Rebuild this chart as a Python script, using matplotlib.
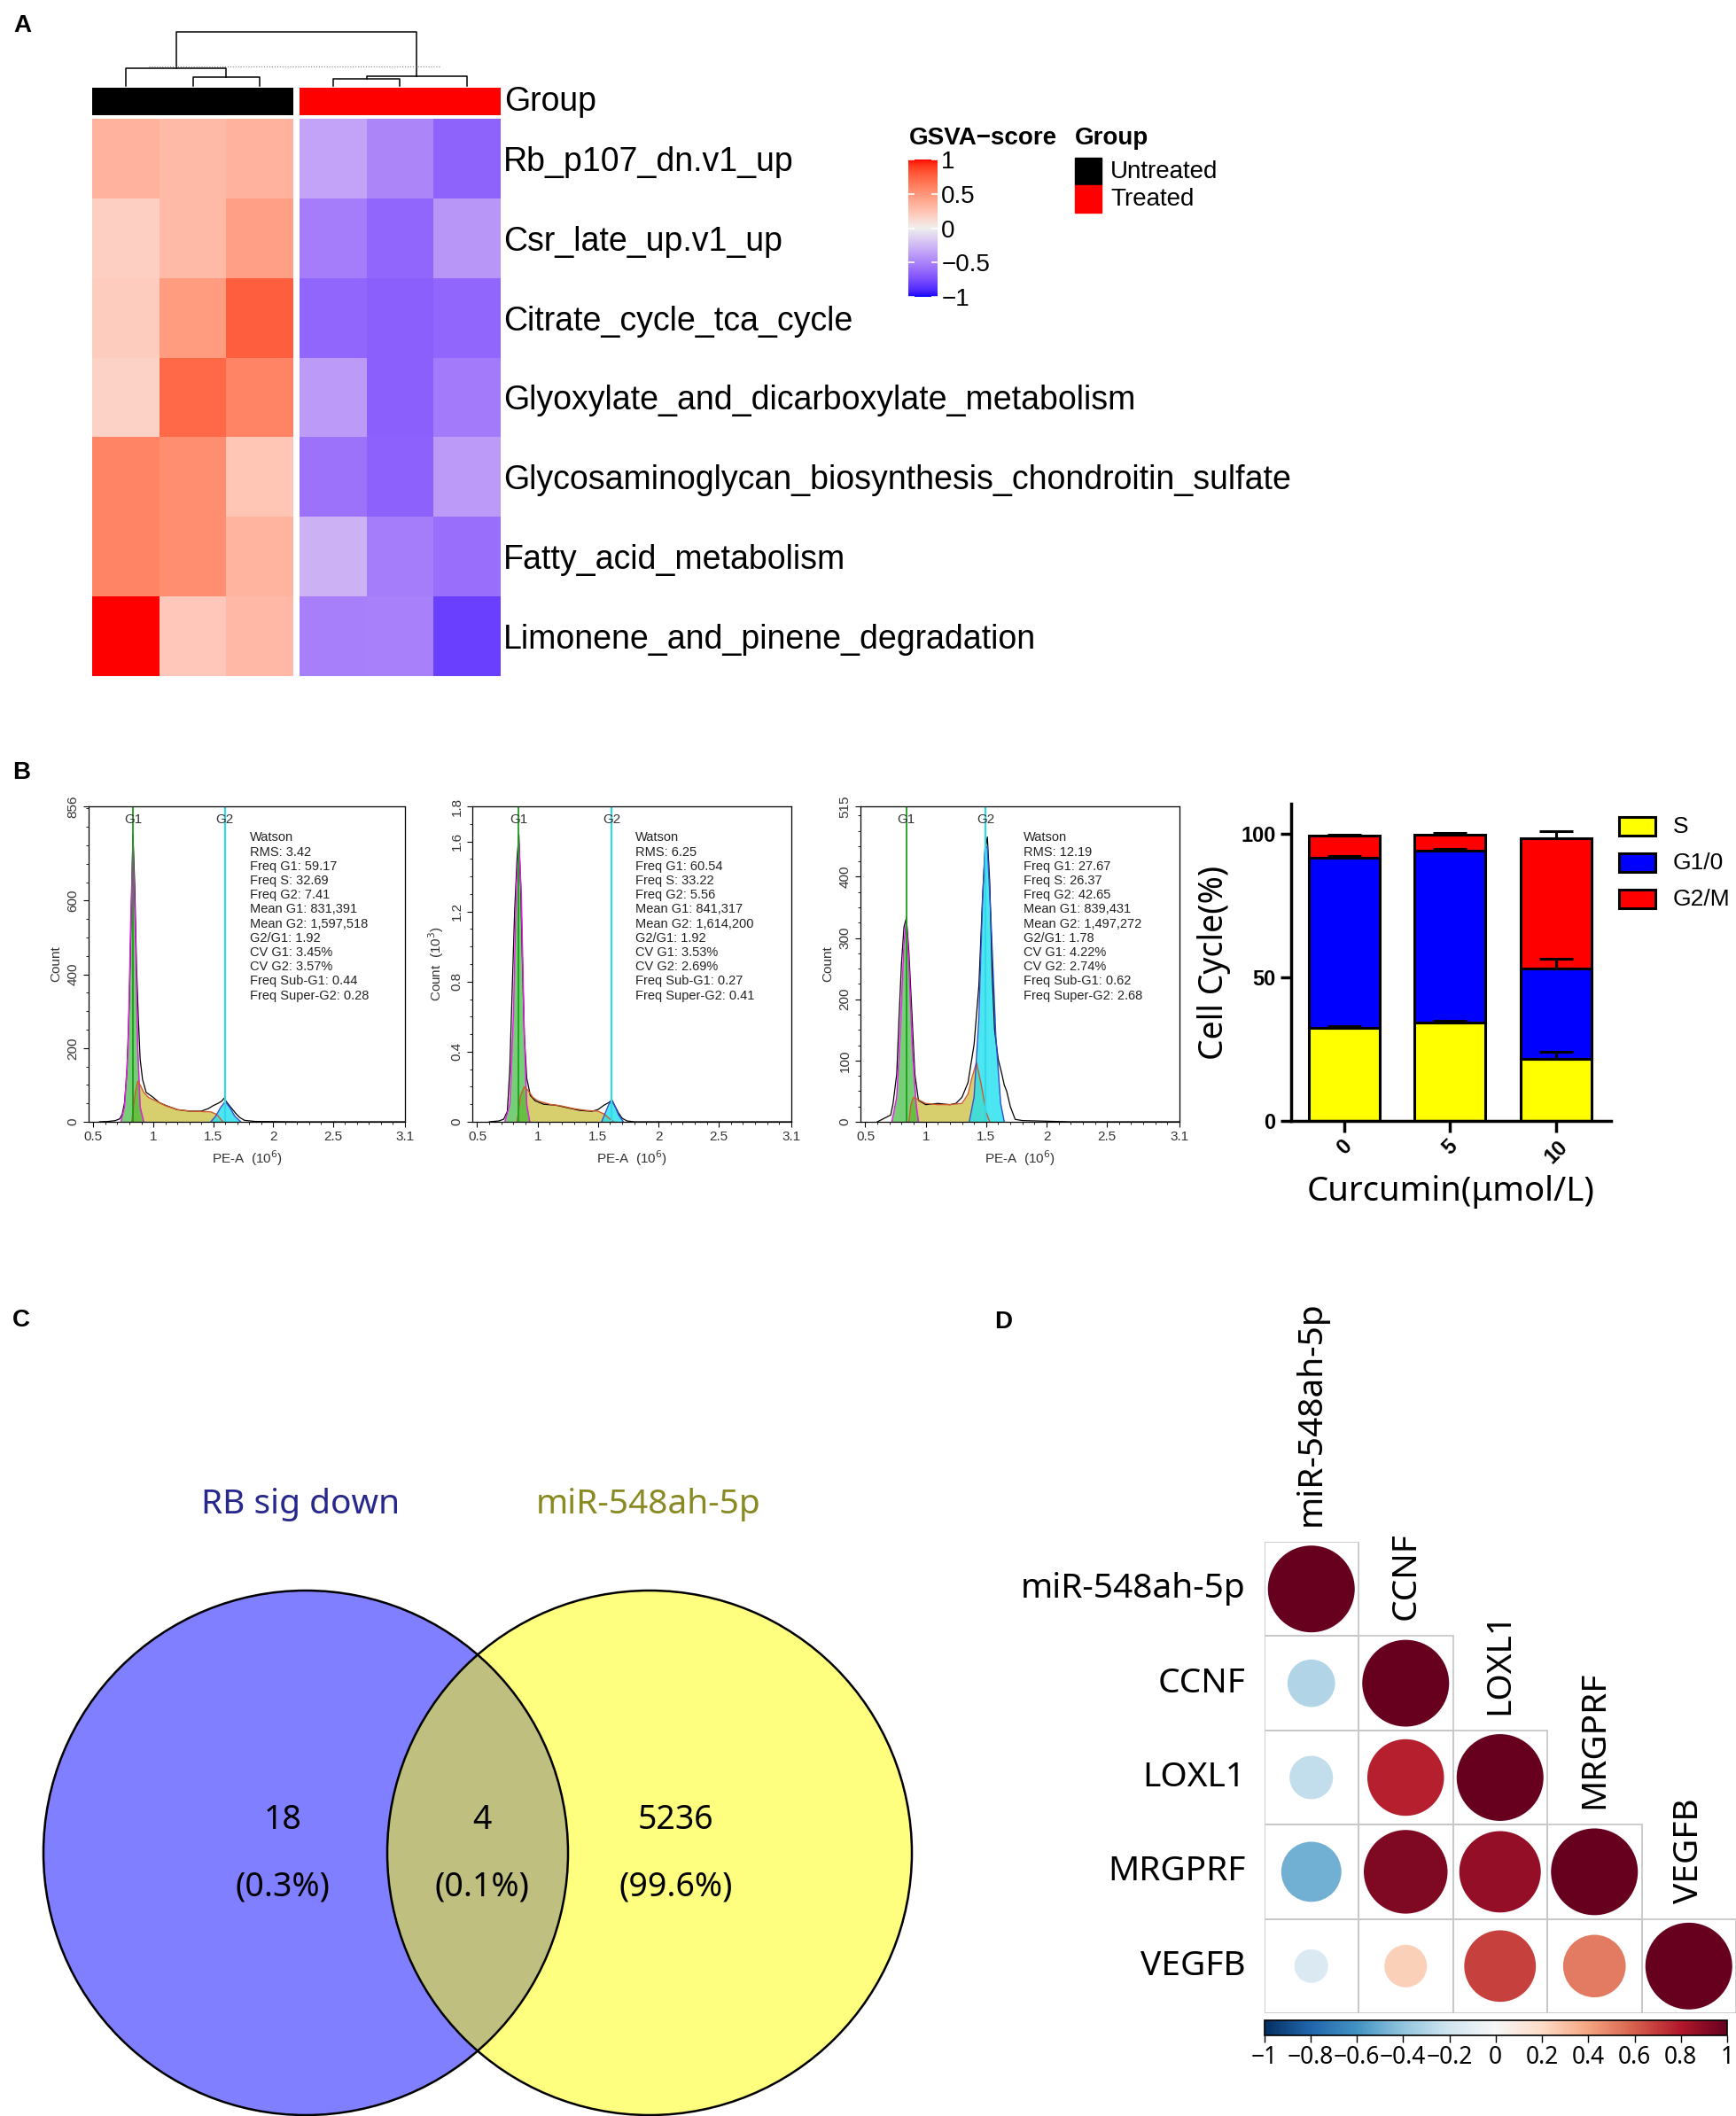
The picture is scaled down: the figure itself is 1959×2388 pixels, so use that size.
import numpy as np
import matplotlib
matplotlib.use("Agg")
import matplotlib.pyplot as plt
from matplotlib.colors import ListedColormap, Normalize
from matplotlib.patches import Rectangle, Circle
from matplotlib.cm import ScalarMappable
from matplotlib.ticker import MultipleLocator

plt.rcParams['font.family'] = ['Liberation Sans', 'DejaVu Sans']
NOTO = ['Noto Sans', 'DejaVu Sans']

W, H = 1959, 2388

# ---------------- A: GSVA heatmap
pathways = ["Rb_p107_dn.v1_up", "Csr_late_up.v1_up", "Citrate_cycle_tca_cycle",
            "Glyoxylate_and_dicarboxylate_metabolism",
            "Glycosaminoglycan_biosynthesis_chondroitin_sulfate",
            "Fatty_acid_metabolism", "Limonene_and_pinene_degradation"]
groups = ["Untreated", "Untreated", "Untreated", "Treated", "Treated", "Treated"]
gsva = [[0.34, 0.30, 0.34, -0.35, -0.49, -0.65],
        [0.18, 0.30, 0.44, -0.53, -0.64, -0.41],
        [0.20, 0.47, 0.77, -0.64, -0.67, -0.64],
        [0.17, 0.72, 0.60, -0.39, -0.67, -0.54],
        [0.59, 0.54, 0.24, -0.58, -0.66, -0.39],
        [0.59, 0.54, 0.33, -0.28, -0.53, -0.60],
        [1.00, 0.22, 0.31, -0.52, -0.51, -0.81]]
# column dendrogram: (node a, node b, height)
merges = [(1, 2, 10), (0, 6, 20), (3, 4, 8), (8, 5, 11), (7, 9, 61)]
cut_height = 22

# ---------------- B: flow cytometry
hist_obs_x = [
    [0.55, 0.62, 0.68, 0.72, 0.74, 0.76, 0.78, 0.80, 0.815, 0.83, 0.845, 0.86, 0.875, 0.89, 0.91,
     0.94, 1.0, 1.05, 1.1, 1.2, 1.3, 1.4, 1.46, 1.5, 1.54, 1.57, 1.59, 1.62, 1.65, 1.69, 1.72,
     1.76, 1.85, 2.2, 3.1],
    [0.6, 0.68, 0.72, 0.75, 0.77, 0.79, 0.81, 0.83, 0.845, 0.86, 0.875, 0.89, 0.91, 0.94, 0.98,
     1.05, 1.15, 1.25, 1.35, 1.45, 1.5, 1.55, 1.59, 1.615, 1.64, 1.67, 1.7, 1.74, 1.8, 2.0, 3.1],
    [0.6, 0.66, 0.71, 0.73, 0.76, 0.78, 0.80, 0.82, 0.84, 0.86, 0.88, 0.91, 0.94, 1.0, 1.1, 1.2,
     1.25, 1.3, 1.35, 1.4, 1.44, 1.47, 1.49, 1.51, 1.53, 1.55, 1.57, 1.6, 1.63, 1.65, 1.67, 1.7,
     1.74, 1.8, 2.0, 2.2, 3.1]]
hist_obs_y = [
    [0, 1, 3, 8, 20, 52, 140, 330, 560, 780, 640, 420, 280, 170, 115, 80, 66, 52, 45, 33, 29,
     29, 36, 44, 50, 56, 64, 50, 38, 22, 12, 4, 1, 0, 0],
    [0, 0.005, 0.015, 0.06, 0.3, 0.75, 1.2, 1.5, 1.64, 1.35, 0.9, 0.5, 0.25, 0.15, 0.12, 0.10,
     0.095, 0.08, 0.065, 0.06, 0.07, 0.095, 0.11, 0.125, 0.09, 0.05, 0.02, 0.005, 0, 0, 0],
    [0, 6, 11, 30, 78, 174, 260, 318, 333, 280, 200, 78, 35, 28, 30, 28, 30, 40, 64, 126, 222,
     366, 440, 465, 390, 240, 150, 102, 78, 60, 50, 25, 4, 2, 1, 0, 0]]
g1_x = [[0.73, 0.76, 0.79, 0.81, 0.83, 0.85, 0.87, 0.89, 0.92],
        [0.73, 0.77, 0.80, 0.825, 0.845, 0.865, 0.89, 0.91, 0.935],
        [0.72, 0.76, 0.79, 0.82, 0.84, 0.86, 0.89, 0.92, 0.94]]
g1_y = [[0, 40, 200, 520, 760, 520, 200, 40, 0],
        [0, 0.1, 0.6, 1.35, 1.6, 1.3, 0.5, 0.1, 0],
        [0, 40, 150, 290, 330, 260, 120, 30, 0]]
s_x = [[0.82, 0.85, 0.87, 0.89, 0.92, 0.96, 1.0, 1.1, 1.2, 1.3, 1.4, 1.48, 1.53, 1.56, 1.58],
       [0.83, 0.86, 0.89, 0.92, 0.96, 1.0, 1.1, 1.2, 1.3, 1.4, 1.5, 1.55, 1.6, 1.63],
       [0.86, 0.88, 0.9, 0.95, 1.0, 1.1, 1.2, 1.3, 1.35, 1.38, 1.42, 1.46, 1.5, 1.53]]
s_y = [[0, 80, 110, 100, 80, 66, 60, 44, 33, 29, 28, 27, 20, 8, 0],
       [0, 0.15, 0.2, 0.18, 0.14, 0.12, 0.10, 0.09, 0.075, 0.065, 0.06, 0.045, 0.015, 0],
       [0, 30, 40, 35, 30, 28, 28, 30, 45, 70, 97, 60, 15, 0]]
g2_x = [[1.48, 1.52, 1.56, 1.60, 1.64, 1.68, 1.73],
        [1.53, 1.56, 1.59, 1.615, 1.64, 1.67, 1.71],
        [1.36, 1.40, 1.44, 1.47, 1.49, 1.51, 1.54, 1.58, 1.62, 1.65]]
g2_y = [[0, 15, 38, 55, 38, 15, 0],
        [0, 0.05, 0.1, 0.12, 0.09, 0.04, 0],
        [0, 40, 170, 360, 445, 450, 330, 140, 30, 0]]
hist_ymax = [856, 1.8, 515]
hist_yticks = [[0, 200, 400, 600, 856], [0, 0.4, 0.8, 1.2, 1.6, 1.8], [0, 100, 200, 300, 400, 515]]
hist_ylabels = ["Count", "Count  (10$^3$)", "Count"]

rms = [3.42, 6.25, 12.19]
freq_g1 = [59.17, 60.54, 27.67]
freq_s = [32.69, 33.22, 26.37]
freq_g2 = [7.41, 5.56, 42.65]
mean_g1 = [831391, 841317, 839431]
mean_g2 = [1597518, 1614200, 1497272]
g2_g1 = [1.92, 1.92, 1.78]
cv_g1 = [3.45, 3.53, 4.22]
cv_g2 = [3.57, 2.69, 2.74]
sub_g1 = [0.44, 0.27, 0.62]
super_g2 = [0.28, 0.41, 2.68]

# cell cycle bars
doses = ["0", "5", "10"]
pct_s = [32.4, 34.3, 21.6]
pct_g1 = [59.2, 59.8, 31.6]
pct_g2 = [7.7, 5.7, 45.4]
err_s = [0.7, 0.6, 2.6]
err_g1 = [0.8, 0.8, 3.2]
err_g2 = [0.3, 0.6, 2.2]

# ---------------- C: venn
venn_sets = ["RB sig down", "miR-548ah-5p"]
venn_counts = [18, 4, 5236]
venn_pct = ["0.3%", "0.1%", "99.6%"]

# ---------------- D: correlation
genes = ["miR-548ah-5p", "CCNF", "LOXL1", "MRGPRF", "VEGFB"]
corr = [[1.0],
        [-0.30, 1.0],
        [-0.25, 0.78, 1.0],
        [-0.48, 0.93, 0.88, 1.0],
        [-0.15, 0.24, 0.68, 0.52, 1.0]]
corr_ticks = ["\u22121", "\u22120.8", "\u22120.6", "\u22120.4", "\u22120.2", "0",
              "0.2", "0.4", "0.6", "0.8", "1"]


def box(x0, y0, x1, y1):
    return [x0 / W, 1 - y1 / H, (x1 - x0) / W, (y1 - y0) / H]


def to_lab(hexc):
    c = np.array(matplotlib.colors.to_rgb(hexc))
    lin = np.where(c <= 0.04045, c / 12.92, ((c + 0.055) / 1.055) ** 2.4)
    M = np.array([[0.4124, 0.3576, 0.1805], [0.2126, 0.7152, 0.0722], [0.0193, 0.1192, 0.9505]])
    xyz = M @ lin / np.array([0.95047, 1.0, 1.08883])
    f = np.where(xyz > 0.008856, np.cbrt(xyz), 7.787 * xyz + 16 / 116)
    return np.array([116 * f[1] - 16, 500 * (f[0] - f[1]), 200 * (f[1] - f[2])])


def from_lab(lab):
    L, a, b = lab
    fy = (L + 16) / 116
    f = np.array([fy + a / 500, fy, fy - b / 200])
    xyz = np.where(f ** 3 > 0.008856, f ** 3, (f - 16 / 116) / 7.787) * np.array([0.95047, 1, 1.08883])
    Minv = np.array([[3.2406, -1.5372, -0.4986], [-0.9689, 1.8758, 0.0415], [0.0557, -0.2040, 1.0570]])
    lin = np.clip(Minv @ xyz, 0, 1)
    return np.where(lin <= 0.0031308, 12.92 * lin, 1.055 * lin ** (1 / 2.4) - 0.055)


# blue - #EEEEEE - red, interpolated in LAB like colorRamp2
lab_b, lab_w, lab_r = to_lab("#0000FF"), to_lab("#EEEEEE"), to_lab("#FF0000")
cols = []
for v in np.linspace(-1, 1, 256):
    end = lab_b if v < 0 else lab_r
    cols.append(from_lab(lab_w + abs(v) * (end - lab_w)))
gsva_cmap = ListedColormap(np.clip(cols, 0, 1))

fig = plt.figure(figsize=(W / 100, H / 100), dpi=100)
ax0 = fig.add_axes([0, 0, 1, 1])
ax0.set_xlim(0, W)
ax0.set_ylim(H, 0)
ax0.axis('off')

# panel letters
for lab, (x, y) in zip("ABCD", [(25, 29), (24, 872), (24, 1490), (1132, 1492)]):
    ax0.text(x, y, lab, fontsize=20, fontweight='bold', ha='center', va='center')

# ---- A
gap = 0.092
ncol = len(groups)
data = np.ma.masked_invalid(np.insert(np.array(gsva), 3, np.nan, axis=1))
xedges = [0, 1, 2, 3, 3 + gap, 4 + gap, 5 + gap, 6 + gap]
ax_h = fig.add_axes(box(104, 134, 565, 763))
ax_h.pcolormesh(xedges, np.arange(len(pathways) + 1), data, cmap=gsva_cmap, vmin=-1, vmax=1)
ax_h.set_xlim(0, 6 + gap)
ax_h.set_ylim(len(pathways), 0)
ax_h.set_xticks([])
ax_h.set_yticks(np.arange(len(pathways)) + 0.5)
ax_h.set_yticklabels(pathways, fontsize=27)
ax_h.yaxis.tick_right()
ax_h.tick_params(axis='y', length=0, pad=2)
for s in ax_h.spines.values():
    s.set_visible(False)

leaf_x = [i + 0.5 + (gap if i >= 3 else 0) for i in range(ncol)]
group_colors = {"Untreated": "black", "Treated": "red"}
ax_g = fig.add_axes(box(104, 99, 565, 130))
ax_g.bar(leaf_x, 1, width=1, color=[group_colors[g] for g in groups])
ax_g.set_xlim(0, 6 + gap)
ax_g.set_ylim(0, 1)
ax_g.axis('off')
ax0.text(569, 115, "Group", fontsize=27, va='center')

ax_d = fig.add_axes(box(104, 36, 565, 97))
node_x = list(leaf_x)
node_h = [0] * ncol
for a, b, hgt in merges:
    xa, xb = node_x[a], node_x[b]
    ax_d.plot([xa, xa, xb, xb], [node_h[a], hgt, hgt, node_h[b]], color='black', lw=1.1,
              clip_on=False)
    node_x.append((xa + xb) / 2)
    node_h.append(hgt)
ax_d.plot([0.85, 5.19], [cut_height, cut_height], color='grey', lw=0.8, ls=':')
ax_d.set_xlim(0, 6 + gap)
ax_d.set_ylim(0, max(node_h))
ax_d.axis('off')

# A legends
ax0.text(1026, 156, "GSVA\u2212score", fontsize=20, fontweight='bold', va='center')
cax = fig.add_axes(box(1025, 180, 1058, 335))
cb = fig.colorbar(ScalarMappable(Normalize(-1, 1), gsva_cmap), cax=cax)
cb.outline.set_visible(False)
cb.set_ticks([-1, -0.5, 0, 0.5, 1])
cb.ax.set_yticklabels(["\u22121", "\u22120.5", "0", "0.5", "1"])
cb.ax.tick_params(direction='in', color='white', length=5, width=1.2, left=True, right=True,
                  labelsize=20, pad=3)
ax0.text(1213, 156, "Group", fontsize=20, fontweight='bold', va='center')
for k, g in enumerate(["Untreated", "Treated"]):
    ax0.add_patch(Rectangle((1213, 178 + 31 * k), 30, 31, color=group_colors[g]))
    ax0.text(1253, 194 + 31 * k, g, fontsize=20, va='center')

# ---- B histograms
hist_boxes = [(100, 910, 457, 1266), (533, 910, 893, 1266), (971, 910, 1331, 1266)]
for k in range(3):
    ax = fig.add_axes(box(*hist_boxes[k]))
    ax.fill_between(s_x[k], s_y[k], color='#CDC34A', alpha=0.8, lw=0)
    ax.fill_between(g1_x[k], g1_y[k], color='#2DB52D', alpha=0.65, lw=0)
    ax.fill_between(g2_x[k], g2_y[k], color='#1FE0F0', alpha=0.8, lw=0)
    ax.plot(hist_obs_x[k], hist_obs_y[k], color='black', lw=0.9)
    ax.plot(g1_x[k], g1_y[k], color='#E020E0', lw=1.1)
    ax.plot(s_x[k], s_y[k], color='#D05A2A', lw=1.0)
    ax.plot(g2_x[k], g2_y[k], color='#3050D0', lw=1.0)
    ax.axvline(mean_g1[k] / 1e6, color='#1A9E1A', lw=1.3)
    ax.axvline(mean_g2[k] / 1e6, color='#30D8E8', lw=1.6)
    ax.text(mean_g1[k] / 1e6, 0.958 * hist_ymax[k], "G1", ha='center', va='center',
            fontsize=11, color='#333333')
    ax.text(mean_g2[k] / 1e6, 0.958 * hist_ymax[k], "G2", ha='center', va='center',
            fontsize=11, color='#333333')
    lines = ["Watson", f"RMS: {rms[k]:.2f}", f"Freq G1: {freq_g1[k]:.2f}",
             f"Freq S: {freq_s[k]:.2f}", f"Freq G2: {freq_g2[k]:.2f}",
             f"Mean G1: {mean_g1[k]:,}", f"Mean G2: {mean_g2[k]:,}",
             f"G2/G1: {g2_g1[k]:.2f}", f"CV G1: {cv_g1[k]:.2f}%", f"CV G2: {cv_g2[k]:.2f}%",
             f"Freq Sub-G1: {sub_g1[k]:.2f}", f"Freq Super-G2: {super_g2[k]:.2f}"]
    ax.text(0.51, 0.92, "\n".join(lines), transform=ax.transAxes, fontsize=10.5,
            va='top', ha='left', linespacing=1.2, color='#222222')
    ax.set_xlim(0.46, 3.1)
    ax.set_ylim(0, hist_ymax[k])
    ax.set_xticks([0.5, 1, 1.5, 2, 2.5, 3.1])
    ax.set_xticklabels(["0.5", "1", "1.5", "2", "2.5", "3.1"])
    ax.xaxis.set_minor_locator(MultipleLocator(0.1))
    ax.set_yticks(hist_yticks[k])
    ax.set_yticklabels([f"{t:g}" for t in hist_yticks[k]], rotation=90, va='center')
    ax.yaxis.set_minor_locator(MultipleLocator(hist_yticks[k][1] / 4))
    ax.tick_params(labelsize=11, labelcolor='#333333', length=4, width=0.8)
    ax.tick_params(which='minor', length=2, width=0.6)
    ax.set_xlabel("PE-A  (10$^6$)", fontsize=11, color='#333333')
    ax.set_ylabel(hist_ylabels[k], fontsize=11, color='#333333')
    for s in ax.spines.values():
        s.set_linewidth(0.9)

# ---- B stacked bars
ax_b = fig.add_axes(box(1457, 907, 1818, 1265))
xb = np.arange(len(doses))
bw = 0.667
bar_cols = {"S": "#FFFF00", "G1/0": "#0000FF", "G2/M": "#FF0000"}
bot1 = np.array(pct_s)
bot2 = bot1 + np.array(pct_g1)
ax_b.bar(xb, pct_s, bw, color=bar_cols["S"], edgecolor='black', lw=2.2, zorder=2)
ax_b.bar(xb, pct_g1, bw, bottom=bot1, color=bar_cols["G1/0"], edgecolor='black', lw=2.2, zorder=2)
ax_b.bar(xb, pct_g2, bw, bottom=bot2, color=bar_cols["G2/M"], edgecolor='black', lw=2.2, zorder=2)
for top, err in [(bot1, err_s), (bot2, err_g1), (bot2 + np.array(pct_g2), err_g2)]:
    ax_b.errorbar(xb, top, yerr=[np.zeros(3), err], fmt='none', ecolor='black',
                  elinewidth=2.2, capsize=14, capthick=2.2, zorder=3)
ax_b.set_xlim(-0.5, 2.52)
ax_b.set_ylim(0, 110.5)
ax_b.set_yticks([0, 50, 100])
ax_b.set_yticklabels(["0", "50", "100"], fontweight='bold', fontsize=17)
ax_b.set_xticks(xb)
ax_b.set_xticklabels(doses, rotation=45, fontweight='bold', fontsize=17, ha='center')
ax_b.tick_params(width=2.5, length=9)
for side in ['top', 'right']:
    ax_b.spines[side].set_visible(False)
for side in ['left', 'bottom']:
    ax_b.spines[side].set_linewidth(2.5)
ax_b.set_ylabel("Cell Cycle(%)", fontsize=27, family=NOTO, labelpad=8)
ax_b.set_xlabel("Curcumin(\u03bcmol/L)", fontsize=27.5, family=NOTO, labelpad=6)
for k, name in enumerate(["S", "G1/0", "G2/M"]):
    ax0.add_patch(Rectangle((1827, 922 + 41 * k), 41, 21, facecolor=bar_cols[name],
                            edgecolor='black', lw=2.2))
    ax0.text(1888, 933 + 41 * k, name, fontsize=19, va='center')

# ---- C venn
centers = [(345, 2091), (733, 2091)]
radius = 296
ax0.add_patch(Circle(centers[0], radius, facecolor='#0000FF', alpha=0.5, lw=0))
ax0.add_patch(Circle(centers[1], radius, facecolor='#FFFF00', alpha=0.5, lw=0))
for c in centers:
    ax0.add_patch(Circle(c, radius, fill=False, edgecolor='black', lw=1.8))
ax0.text(339, 1698, venn_sets[0], fontsize=28, color='#27288C', ha='center', va='center',
         family=NOTO)
ax0.text(732, 1698, venn_sets[1], fontsize=28, color='#8A8A22', ha='center', va='center',
         family=NOTO)
for xv, n, p in zip([319, 544, 763], venn_counts, venn_pct):
    ax0.text(xv, 2054, str(n), fontsize=27, ha='center', va='center', family=NOTO)
    ax0.text(xv, 2130, f"({p})", fontsize=27, ha='center', va='center', family=NOTO)

# ---- D corrplot
ax_c = fig.add_axes(box(1426.5, 1740, 1959, 2272))
rdbu = plt.get_cmap('RdBu_r')
cnorm = Normalize(-1, 1)
n = len(genes)
for i in range(n):
    for j in range(i + 1):
        r = corr[i][j]
        ax_c.add_patch(Rectangle((j, i), 1, 1, fill=False, edgecolor='#C8C8C8', lw=1.3))
        ax_c.add_patch(Circle((j + 0.5, i + 0.5), 0.46 * np.sqrt(abs(r)), color=rdbu(cnorm(r)), lw=0))
    ax_c.text(-0.2, i + 0.5, genes[i], fontsize=28, ha='right', va='center', family=NOTO)
    ax_c.text(i + 0.5, i - 0.17, genes[i], fontsize=28, ha='center', va='bottom', rotation=90,
              family=NOTO)
ax_c.set_xlim(0, n)
ax_c.set_ylim(n, 0)
ax_c.axis('off')

cax2 = fig.add_axes(box(1426.5, 2280, 1949, 2297))
cb2 = fig.colorbar(ScalarMappable(cnorm, rdbu), cax=cax2, orientation='horizontal')
cb2.set_ticks(np.linspace(-1, 1, len(corr_ticks)))
cb2.ax.set_xticklabels(corr_ticks, family=NOTO)
cb2.ax.tick_params(labelsize=19, length=6, width=1, pad=2)
cb2.outline.set_linewidth(1.2)

fig.savefig("out.png", dpi=100)
